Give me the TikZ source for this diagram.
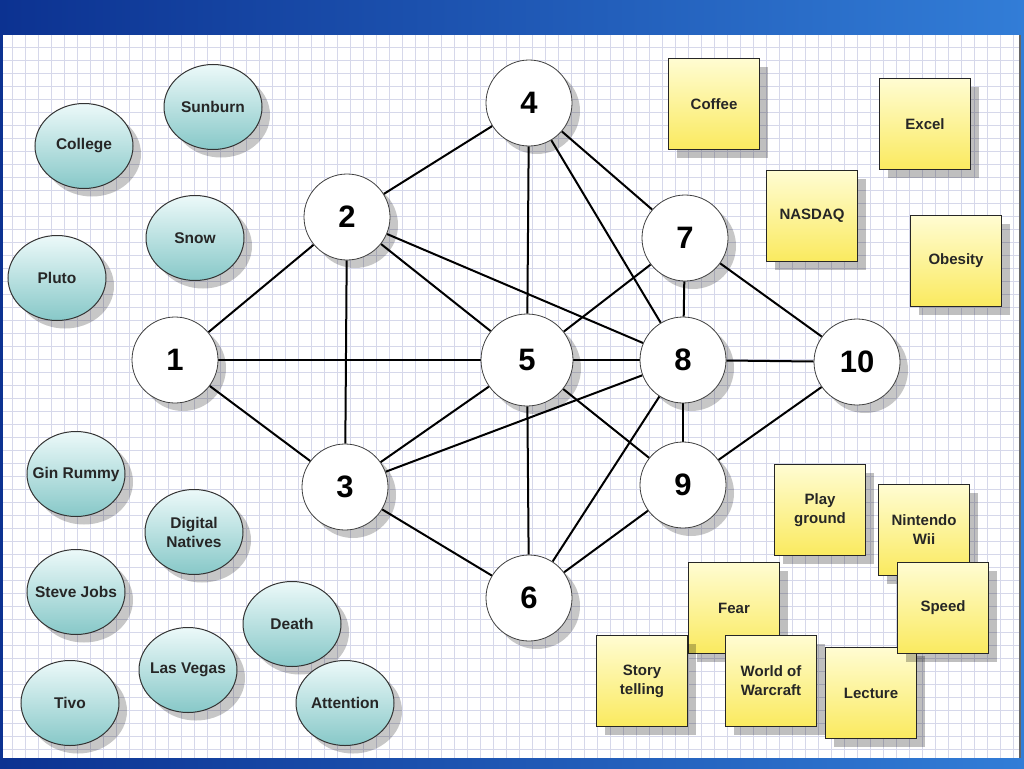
\documentclass[tikz,border=0pt]{standalone}
\usepackage{fontspec}
\setmainfont{Liberation Sans}
\usetikzlibrary{shapes.geometric}
\usetikzlibrary{shadows}
\definecolor{gridblue}{RGB}{214,216,234}
\definecolor{teallight}{RGB}{236,249,249}
\definecolor{tealdark}{RGB}{135,200,200}
\definecolor{notelight}{RGB}{255,252,210}
\definecolor{notedark}{RGB}{250,234,95}
\definecolor{framedark}{RGB}{12,50,145}
\definecolor{framelight}{RGB}{50,125,215}
\pgfdeclarelayer{paper}
\pgfdeclarelayer{links}
\pgfsetlayers{paper,links,main}

\begin{document}
\begin{tikzpicture}[x=1pt,y=-1pt,
  num/.style={circle,draw=black!75,line width=0.8pt,fill=white,minimum size=86pt,inner sep=0pt,font=\fontsize{31}{36}\selectfont\bfseries,drop shadow={shadow xshift=8pt,shadow yshift=-8pt,opacity=0.22,fill=black}},
  idea/.style={ellipse,draw=black!80,line width=1pt,top color=teallight,bottom color=tealdark,minimum width=98pt,minimum height=85pt,inner xsep=-14pt,inner ysep=0pt,align=center,text=black!85,font=\fontsize{15.5}{19}\selectfont\bfseries,drop shadow={shadow xshift=8pt,shadow yshift=-8pt,opacity=0.22,fill=black}},
  note/.style={rectangle,draw=black!85,line width=1pt,top color=notelight,bottom color=notedark,minimum size=91pt,inner sep=0pt,align=center,text=black!85,font=\fontsize{15}{19}\selectfont\bfseries,drop shadow={shadow xshift=8pt,shadow yshift=-8pt,opacity=0.25,fill=black}},
  link/.style={line width=2pt}]

\useasboundingbox (0,0) rectangle (1024,768);

\begin{pgfonlayer}{paper}
\shade[left color=framedark,right color=framelight] (0,0) rectangle (1024,768);
\fill[white] (3,35) rectangle (1020,758);
\foreach \gx in {12,25,...,1015} \draw[gridblue,line width=0.6pt] (\gx,35) -- (\gx,758);
\foreach \gy in {47,60,...,757} \draw[gridblue,line width=0.6pt] (3,\gy) -- (1020,\gy);
\draw[black!60,line width=1.2pt] (1020,35) -- (1020,758);
\end{pgfonlayer}

\node[num] (n1) at (175,360) {1};
\node[num] (n2) at (347,217) {2};
\node[num] (n3) at (345,487) {3};
\node[num] (n4) at (529,103) {4};
\node[num,minimum size=92pt] (n5) at (527,360) {5};
\node[num] (n6) at (529,598) {6};
\node[num] (n7) at (685,238) {7};
\node[num] (n8) at (683,360) {8};
\node[num] (n9) at (683,485) {9};
\node[num] (n10) at (857,362) {10};

\begin{pgfonlayer}{links}
\draw[link] (n1) -- (n2);
\draw[link] (n1) -- (n5);
\draw[link] (n1) -- (n3);
\draw[link] (n2) -- (n4);
\draw[link] (n2) -- (n3);
\draw[link] (n2) -- (n5);
\draw[link] (n2) -- (n8);
\draw[link] (n4) -- (n5);
\draw[link] (n4) -- (n8);
\draw[link] (n4) -- (n7);
\draw[link] (n7) -- (n5);
\draw[link] (n7) -- (n8);
\draw[link] (n7) -- (n10);
\draw[link] (n5) -- (n8);
\draw[link] (n5) -- (n3);
\draw[link] (n5) -- (n6);
\draw[link] (n5) -- (n9);
\draw[link] (n8) -- (n10);
\draw[link] (n8) -- (n3);
\draw[link] (n8) -- (n9);
\draw[link] (n8) -- (n6);
\draw[link] (n3) -- (n6);
\draw[link] (n9) -- (n6);
\draw[link] (n9) -- (n10);
\end{pgfonlayer}

\node[idea] (sunburn) at (213,107) {Sunburn};
\node[idea] (college) at (84,146) {College};
\node[idea] (snow) at (195,238) {Snow};
\node[idea] (pluto) at (57,278) {Pluto};
\node[idea] (gin) at (76,474) {Gin Rummy};
\node[idea] (natives) at (194,532) {Digital\\Natives};
\node[idea] (jobs) at (76,592) {Steve Jobs};
\node[idea] (death) at (292,624) {Death};
\node[idea] (vegas) at (188,670) {Las Vegas};
\node[idea] (tivo) at (70,703) {Tivo};
\node[idea] (attention) at (345,703) {Attention};

\node[note] (coffee) at (714,104) {Coffee};
\node[note] (excel) at (925,124) {Excel};
\node[note] (nasdaq) at (812,216) {NASDAQ};
\node[note] (obesity) at (956,261) {Obesity};
\node[note] (play) at (820,510) {Play\\ground};
\node[note] (wii) at (924,530) {Nintendo\\Wii};
\node[note] (lecture) at (871,693) {Lecture};
\node[note] (speed) at (943,608) {Speed};
\node[note] (fear) at (734,608) {Fear};
\node[note] (story) at (642,681) {Story\\telling};
\node[note] (wow) at (771,681) {World of\\Warcraft};
\end{tikzpicture}
\end{document}
